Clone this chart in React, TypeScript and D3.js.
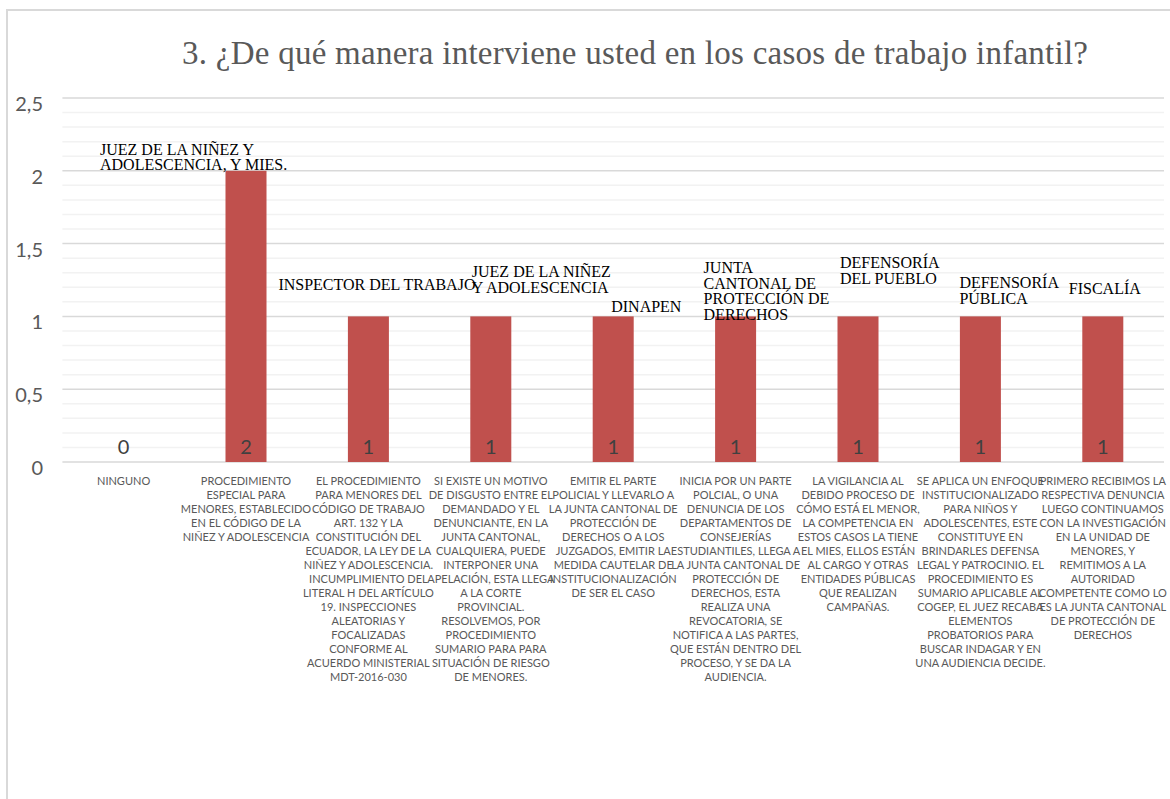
import * as d3 from 'd3';

const categories = [
  'NINGUNO',
  'PROCEDIMIENTO ESPECIAL',
  'EL PROCEDIMIENTO',
  'SI EXISTE UN MOTIVO',
  'EMITIR EL PARTE',
  'INICIA POR UN PARTE',
  'LA VIGILANCIA',
  'SE APLICA UN ENFOQUE',
  'PRIMERO RECIBIMOS',
];

const values = [0, 2, 1, 1, 1, 1, 1, 1, 1];

// category labels, already broken into the lines seen in the picture
const categoryLines = [
  ['NINGUNO'],
  ['PROCEDIMIENTO', 'ESPECIAL PARA', 'MENORES, ESTABLECIDO', 'EN EL CÓDIGO DE LA', 'NIÑEZ Y ADOLESCENCIA'],
  ['EL PROCEDIMIENTO', 'PARA MENORES DEL', 'CÓDIGO DE TRABAJO', 'ART. 132  Y LA', 'CONSTITUCIÓN DEL',
    'ECUADOR, LA LEY DE LA', 'NIÑEZ Y ADOLESCENCIA.', 'INCUMPLIMIENTO DEL', 'LITERAL H DEL ARTÍCULO',
    '19. INSPECCIONES', 'ALEATORIAS Y', 'FOCALIZADAS', 'CONFORME AL', 'ACUERDO MINISTERIAL', 'MDT-2016-030'],
  ['SI EXISTE UN MOTIVO', 'DE DISGUSTO ENTRE EL', 'DEMANDADO Y EL', 'DENUNCIANTE, EN LA', 'JUNTA CANTONAL,',
    'CUALQUIERA, PUEDE', 'INTERPONER UNA', 'APELACIÓN, ESTA LLEGA', 'A LA CORTE', 'PROVINCIAL.',
    'RESOLVEMOS, POR', 'PROCEDIMIENTO', 'SUMARIO PARA PARA', 'SITUACIÓN DE RIESGO', 'DE MENORES.'],
  ['EMITIR EL PARTE', 'POLICIAL Y LLEVARLO A', 'LA JUNTA CANTONAL DE', 'PROTECCIÓN DE', 'DERECHOS O A LOS',
    'JUZGADOS, EMITIR LA', 'MEDIDA CAUTELAR DE', 'INSTITUCIONALIZACIÓN', 'DE SER EL CASO'],
  ['INICIA POR UN PARTE', 'POLCIAL, O UNA', 'DENUNCIA DE LOS', 'DEPARTAMENTOS DE', 'CONSEJERÍAS',
    'ESTUDIANTILES, LLEGA A', 'LA JUNTA CANTONAL DE', 'PROTECCIÓN DE', 'DERECHOS, ESTA', 'REALIZA UNA',
    'REVOCATORIA, SE', 'NOTIFICA A LAS PARTES,', 'QUE ESTÁN DENTRO DEL', 'PROCESO, Y SE DA LA', 'AUDIENCIA.'],
  ['LA VIGILANCIA AL', 'DEBIDO PROCESO DE', 'CÓMO ESTÁ EL MENOR,', 'LA COMPETENCIA EN', 'ESTOS CASOS LA TIENE',
    'EL MIES, ELLOS ESTÁN', 'AL CARGO Y OTRAS', 'ENTIDADES PÚBLICAS', 'QUE REALIZAN', 'CAMPAÑAS.'],
  ['SE APLICA UN ENFOQUE', 'INSTITUCIONALIZADO', 'PARA NIÑOS Y', 'ADOLESCENTES, ESTE', 'CONSTITUYE EN',
    'BRINDARLES DEFENSA', 'LEGAL Y PATROCINIO. EL', 'PROCEDIMIENTO ES', 'SUMARIO APLICABLE AL',
    'COGEP, EL JUEZ RECABA', 'ELEMENTOS', 'PROBATORIOS PARA', 'BUSCAR INDAGAR Y EN', 'UNA AUDIENCIA DECIDE.'],
  ['PRIMERO RECIBIMOS LA', 'RESPECTIVA DENUNCIA', 'LUEGO CONTINUAMOS', 'CON LA INVESTIGACIÓN', 'EN LA UNIDAD DE',
    'MENORES, Y', 'REMITIMOS A LA', 'AUTORIDAD', 'COMPETENTE COMO LO', 'ES LA JUNTA CANTONAL',
    'DE PROTECCIÓN DE', 'DERECHOS'],
];

// text labels written above the bars
const barNotes = [
  [],
  ['JUEZ DE LA NIÑEZ Y', 'ADOLESCENCIA, Y MIES.'],
  ['INSPECTOR DEL TRABAJO'],
  ['JUEZ DE LA NIÑEZ', 'Y ADOLESCENCIA'],
  ['DINAPEN'],
  ['JUNTA', 'CANTONAL DE', 'PROTECCIÓN DE', 'DERECHOS'],
  ['DEFENSORÍA', 'DEL PUEBLO'],
  ['DEFENSORÍA', 'PÚBLICA'],
  ['FISCALÍA'],
];

const yTicks = [0, 0.5, 1, 1.5, 2, 2.5];
const yTickLabels = ['0', '0,5', '1', '1,5', '2', '2,5'];

const title = '3. ¿De qué manera interviene usted en los casos de trabajo infantil?';

// where each note sits, relative to bar centre / bar top
const noteOffsets = [
  [0, 0], [-146, -16], [-90, -26], [-19, -39], [-2, -4], [-32, -43], [-18, -48], [-21, -28], [-34, -22],
];

const W = 1170;
const H = 799;
const plot = { left: 62.4, right: 1164, top: 98, bottom: 462 };
const sans = 'Lato, "Open Sans", sans-serif';
const serif = '"Liberation Serif", "Times New Roman", serif';

export default function App() {
  const x = d3.scaleBand<string>()
    .domain(categories)
    .range([plot.left, plot.right])
    .paddingInner(0.665)
    .paddingOuter(0.3325);
  const y = d3.scaleLinear().domain([0, 2.5]).range([plot.bottom, plot.top]);
  const minor = d3.range(0, 2.51, 0.1).filter((v) => Math.round(v * 10) % 5 !== 0);
  const bw = x.bandwidth();

  return (
    <svg width={W} height={H} style={{ position: 'absolute', left: 0, top: 0, background: '#fff' }}>
      <rect x={7} y={10} width={1200} height={820} fill="#fff" stroke="#d9d9d9" strokeWidth={2} />
      <text x={635} y={64} textAnchor="middle" fontFamily={serif} fontSize={33} fill="#595959"
        textLength={906} lengthAdjust="spacing">
        {title}
      </text>

      <g>
        {minor.map((v) => (
          <line key={'m' + v} x1={plot.left} x2={plot.right} y1={y(v)} y2={y(v)} stroke="#f2f2f2" strokeWidth={1.5} />
        ))}
        {yTicks.map((v) => (
          <line key={'g' + v} x1={plot.left} x2={plot.right} y1={y(v)} y2={y(v)} stroke="#d9d9d9" strokeWidth={1.5} />
        ))}
        {yTicks.map((v, i) => (
          <text key={'t' + v} x={43} y={y(v) + 13} textAnchor="end" fontFamily={sans} fontSize={20} fill="#595959">
            {yTickLabels[i]}
          </text>
        ))}
      </g>

      <g>
        {categories.map((c, i) => (
          <rect key={c} x={x(c)} y={y(values[i])} width={bw} height={y(0) - y(values[i])} fill="#c0504d" />
        ))}
        {categories.map((c, i) => (
          <text key={'v' + c} x={(x(c) ?? 0) + bw / 2} y={y(0) - 8} textAnchor="middle" fontFamily={sans}
            fontSize={20} fill="#404040">
            {values[i]}
          </text>
        ))}
      </g>

      <g fontFamily={serif} fontSize={16} fill="#000">
        {categories.map((c, i) => {
          const cx = (x(c) ?? 0) + bw / 2;
          const [dx, dy] = noteOffsets[i];
          return (
            <text key={'n' + c} x={cx + dx} y={y(values[i]) + dy}>
              {barNotes[i].map((line, j) => (
                <tspan key={j} x={cx + dx} dy={j === 0 ? 0 : 15.5}>{line}</tspan>
              ))}
            </text>
          );
        })}
      </g>

      <g fontFamily={sans} fontSize={11} fill="#595959">
        {categories.map((c, i) => {
          const cx = (x(c) ?? 0) + bw / 2;
          return (
            <text key={'c' + c} x={cx} y={485} textAnchor="middle">
              {categoryLines[i].map((line, j) => (
                <tspan key={j} x={cx} dy={j === 0 ? 0 : 14}>{line}</tspan>
              ))}
            </text>
          );
        })}
      </g>
    </svg>
  );
}
